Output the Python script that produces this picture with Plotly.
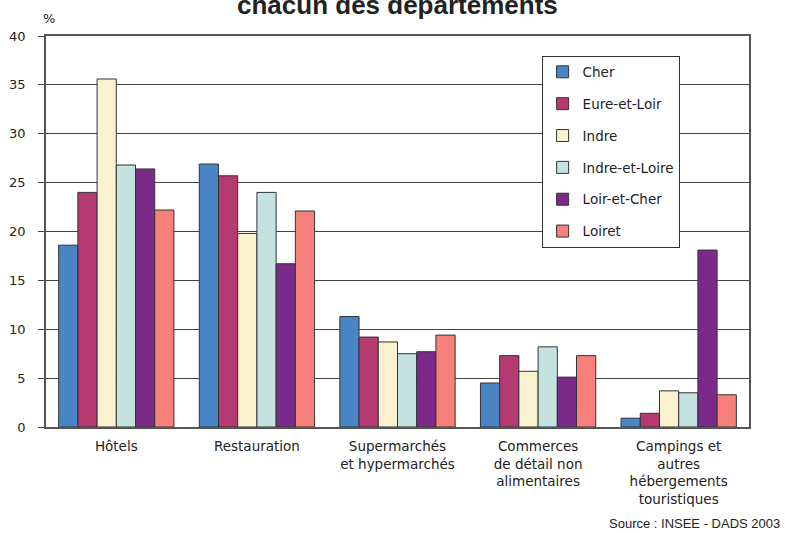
import plotly.graph_objects as go

categories = ["Hôtels", "Restauration", "Supermarchés<br>et hypermarchés",
              "Commerces<br>de détail non<br>alimentaires",
              "Campings et<br>autres<br>hébergements<br>touristiques"]
departements = ["Cher", "Eure-et-Loir", "Indre", "Indre-et-Loire", "Loir-et-Cher", "Loiret"]
cher = [18.6, 26.9, 11.3, 4.5, 0.9]
eure_et_loir = [24.0, 25.7, 9.2, 7.3, 1.4]
indre = [35.6, 19.8, 8.7, 5.7, 3.7]
indre_et_loire = [26.8, 24.0, 7.5, 8.2, 3.5]
loir_et_cher = [26.4, 16.7, 7.7, 5.1, 18.1]
loiret = [22.2, 22.1, 9.4, 7.3, 3.3]
series = [cher, eure_et_loir, indre, indre_et_loire, loir_et_cher, loiret]
colors = ["#4A86C5", "#B53A72", "#FAF1CF", "#C3E2E0", "#7B2A89", "#F5817A"]
y_ticks = [0, 5, 10, 15, 20, 25, 30, 35, 40]

fig = go.Figure()
for name, vals, col in zip(departements, series, colors):
    fig.add_trace(go.Bar(
        x=categories, y=vals, name=name, legendgroup=name,
        marker=dict(color=col, line=dict(color="#333333", width=1)),
    ))

txt_font = dict(family="DejaVu Sans", size=13.5, color="#222222")

fig.update_layout(
    width=785, height=533,
    margin=dict(l=46, r=36, t=36, b=106),
    paper_bgcolor="white", plot_bgcolor="white",
    barmode="group", bargap=0.18, bargroupgap=0,
    font=txt_font,
    showlegend=True,
    legend=dict(
        x=0.705, y=0.95, xanchor="left", yanchor="top",
        bgcolor="white", bordercolor="#333333", borderwidth=1,
        font=dict(family="DejaVu Sans", size=13.5, color="#222222"),
        traceorder="grouped", tracegroupgap=11.3,
    ),
    xaxis=dict(
        showgrid=False, showline=True, linecolor="#555555", linewidth=1.5,
        mirror=True, ticks="", tickfont=txt_font, ticklabelstandoff=6,
        automargin=False,
    ),
    yaxis=dict(
        range=[0, 40], tickvals=y_ticks, ticktext=[str(v) for v in y_ticks],
        showgrid=True, gridcolor="#444444", gridwidth=1,
        showline=True, linecolor="#555555", linewidth=1.5, mirror=True,
        ticks="outside", ticklen=6, tickcolor="#444444",
        tickfont=dict(family="DejaVu Sans", size=13, color="#222222"),
        ticklabelstandoff=10, zeroline=False, automargin=False,
    ),
    annotations=[
        dict(text="<b>chacun des départements</b>", xref="paper", yref="paper",
             x=0.5, y=1.080, xanchor="center", yanchor="middle", showarrow=False,
             font=dict(family="Liberation Sans", size=26, color="#222222")),
        dict(text="%", xref="paper", yref="paper", x=0.004, y=1.046,
             xanchor="center", yanchor="middle", showarrow=False,
             font=dict(family="DejaVu Sans", size=13, color="#222222")),
        dict(text="Source : INSEE - DADS 2003", xref="paper", yref="paper",
             x=1.047, y=-0.248, xanchor="right", yanchor="middle", showarrow=False,
             font=dict(family="Liberation Sans", size=13, color="#222222")),
    ],
)

fig.write_html("out.html",
               config={"displayModeBar": False},
               post_script="document.body.style.margin='0px';document.body.style.overflow='hidden';")
